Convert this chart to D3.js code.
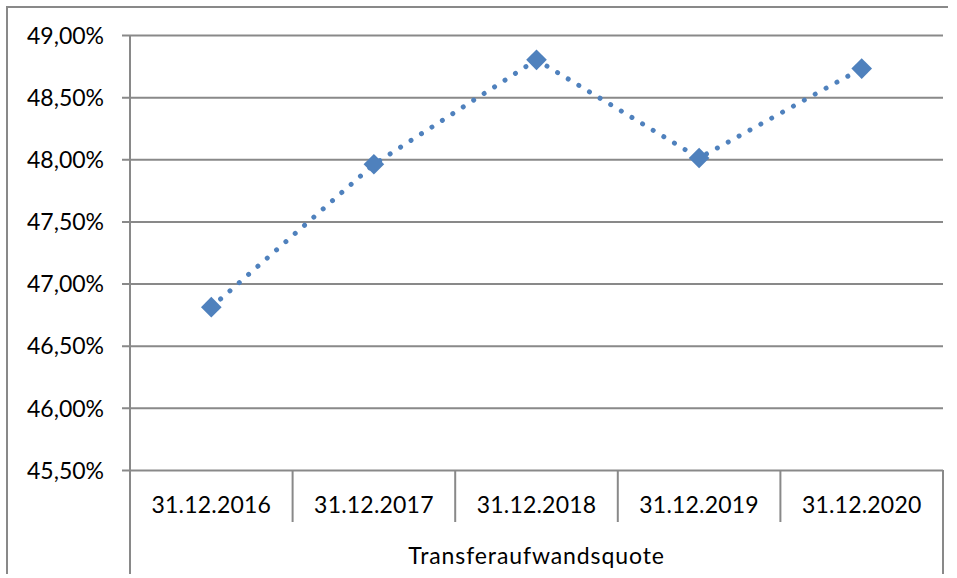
<!DOCTYPE html>
<html><head><meta charset="utf-8">
<script src="https://cdn.jsdelivr.net/npm/d3@7"></script>
<style>body{margin:0;background:#fff}svg{display:block}</style>
</head><body><svg id="c" width="957" height="578"></svg>
<script>
const categories = ["31.12.2016","31.12.2017","31.12.2018","31.12.2019","31.12.2020"];
const values = [46.81, 47.96, 48.80, 48.01, 48.73];
const yTicks = [45.5, 46.0, 46.5, 47.0, 47.5, 48.0, 48.5, 49.0];
const seriesName = "Transferaufwandsquote";

const svg = d3.select("#c");
const font = "Lato, 'Open Sans', sans-serif";
const grey = "#898989";
const blue = "#4F81BD";
const L = 130, R = 943, T = 35, B = 470;
const x = d3.scaleBand().domain(categories).range([L, R]).padding(0);
const y = d3.scaleLinear().domain([45.5, 49]).range([B, T]);
const fmt = v => d3.format(".2f")(v).replace(".", ",") + "%";

// outer frame (top + left)
svg.append("path").attr("d", `M7,574 V7 H948`).attr("fill","none").attr("stroke",grey).attr("stroke-width",2);

// gridlines
const yAxis = d3.axisLeft(y).tickValues(yTicks).tickSize(-(R - L)).tickFormat(fmt).tickPadding(26);
const gy = svg.append("g").attr("transform", `translate(${L},0)`).call(yAxis);
gy.select(".domain").remove();
gy.selectAll(".tick line").attr("stroke", grey).attr("stroke-width", 2).attr("x1", -8);
gy.selectAll(".tick text").attr("font-family", font).attr("font-size", 23).attr("fill", "#000").attr("dy","0.36em");

// axis lines
svg.append("line").attr("x1",L).attr("x2",L).attr("y1",T).attr("y2",574).attr("stroke",grey).attr("stroke-width",2);
svg.append("line").attr("x1",R).attr("x2",R).attr("y1",B).attr("y2",574).attr("stroke",grey).attr("stroke-width",2);
// category separators
svg.append("g").selectAll("line").data(categories.slice(1)).join("line")
  .attr("x1", d => x(d)).attr("x2", d => x(d)).attr("y1", B).attr("y2", 522)
  .attr("stroke", grey).attr("stroke-width", 2);
// category labels
svg.append("g").selectAll("text").data(categories).join("text")
  .attr("x", d => x(d) + x.bandwidth()/2).attr("y", 513)
  .attr("text-anchor","middle").attr("font-family",font).attr("font-size",23).attr("fill","#000")
  .attr("letter-spacing", 0.2)
  .text(d => d);
svg.append("text").attr("x",(L+R)/2).attr("y",564).attr("text-anchor","middle")
  .attr("font-family",font).attr("font-size",23).attr("fill","#000")
  .attr("letter-spacing", 0.9).text(seriesName);

// line
const pts = categories.map((c,i)=>[x(c)+x.bandwidth()/2, y(values[i])]);
svg.append("path").attr("d", d3.line()(pts)).attr("fill","none").attr("stroke",blue)
  .attr("stroke-width",5).attr("stroke-linecap","round").attr("stroke-dasharray","0.01 12.4")
  .attr("stroke-dashoffset", -12.4);
// markers
svg.append("g").selectAll("path").data(pts).join("path")
  .attr("transform", d => `translate(${d[0]},${d[1]}) rotate(45)`)
  .attr("d", "M-7.3,-7.3H7.3V7.3H-7.3Z").attr("fill", blue);
</script></body></html>
